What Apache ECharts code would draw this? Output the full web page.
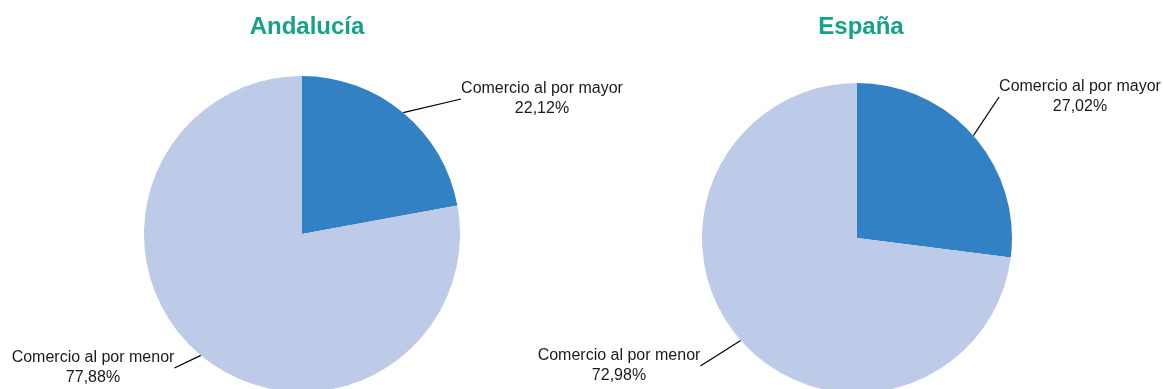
<!DOCTYPE html>
<html>
<head>
<meta charset="utf-8">
<script src="https://cdn.jsdelivr.net/npm/echarts@6/dist/echarts.min.js"></script>
<style>
  html, body { margin: 0; padding: 0; background: #ffffff; }
  #chart { width: 1163px; height: 389px; }
</style>
</head>
<body>
<div id="chart"></div>
<script>
// Reparto del comercio mayorista / minorista
const regions = ['Andalucía', 'España'];
const categories = ['Comercio al por mayor', 'Comercio al por menor'];
const andaluciaValues = [22.12, 77.88];
const espanaValues = [27.02, 72.98];

const sliceColors = ['#3181c4', '#bdcae8'];
const titleColor = '#14a389';
const font = '"Liberation Sans", Arial, sans-serif';

// label anchor points for each pie (centre of the text block)
const labelSpots = [
  [[542, 99], [93, 368]],
  [[1080, 97], [619, 366]]
];

function fmt(p) {
  return p.name + '\n' + p.value.toFixed(2).replace('.', ',') + '%';
}

function pieSeries(idx, values, center, radius) {
  return {
    type: 'pie',
    center: center,
    radius: radius,
    startAngle: 90,
    clockwise: true,
    silent: true,
    animation: false,
    avoidLabelOverlap: false,
    data: categories.map((c, i) => ({
      name: c,
      value: values[i],
      itemStyle: { color: sliceColors[i] }
    })),
    label: {
      show: true,
      formatter: fmt,
      fontFamily: font,
      fontSize: 16,
      lineHeight: 20,
      color: '#1a1a1a',
      align: 'center'
    },
    labelLine: {
      show: true,
      length: 0,
      length2: 0,
      lineStyle: { color: '#000000', width: 1.2 }
    },
    labelLayout: function (params) {
      const s = labelSpots[idx][params.dataIndex];
      return { x: s[0], y: s[1], align: 'center', verticalAlign: 'middle' };
    }
  };
}

const chart = echarts.init(document.getElementById('chart'), null, { renderer: 'canvas' });
chart.setOption({
  backgroundColor: '#ffffff',
  animation: false,
  title: [
    {
      text: regions[0], left: 302, top: 10, textAlign: 'center',
      textStyle: { fontFamily: font, fontSize: 24, fontWeight: 'bold', color: titleColor }
    },
    {
      text: regions[1], left: 856, top: 10, textAlign: 'center',
      textStyle: { fontFamily: font, fontSize: 24, fontWeight: 'bold', color: titleColor }
    }
  ],
  series: [
    pieSeries(0, andaluciaValues, [302, 234], 158),
    pieSeries(1, espanaValues, [857, 238], 155)
  ]
});
</script>
</body>
</html>
